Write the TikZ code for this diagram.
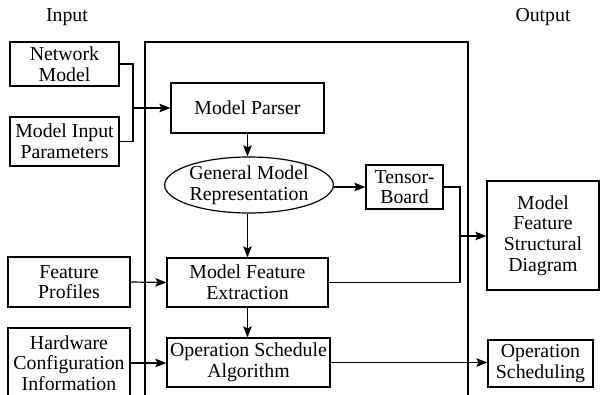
\documentclass[tikz,border=0pt]{standalone}
\usepackage{fontspec}
\setmainfont{Liberation Serif}
\newfontfamily\timesfont{Liberation Serif}
\usetikzlibrary{arrows.meta,shapes.geometric}
\tikzset{
  txt/.style={font=\timesfont\fontsize{19.8}{20.6}\selectfont},
  box/.style={draw,line width=1.2pt,align=center,inner sep=0pt,txt},
  oval/.style={draw,ellipse,line width=1.2pt,align=center,inner sep=0pt,txt},
  lbl/.style={inner sep=0pt,txt},
  conn/.style={line width=1.2pt},
  arr/.style={line width=1.2pt,-{Stealth[length=11pt,width=8.5pt,inset=2pt]}}
}
\begin{document}
\begin{tikzpicture}[x=1pt,y=-1pt]
\useasboundingbox (0,0) rectangle (600,394);
\clip (0,0) rectangle (600,394);
\node[lbl] (inlbl) at (67,17) {Input};
\node[lbl] (outlbl) at (543,17) {Output};
\node[draw,line width=1.2pt,minimum width=323pt,minimum height=370pt,inner sep=0pt] (frame) at (306.5,227) {};
\node[box,minimum width=109pt,minimum height=44pt] (net) at (64.5,64) {Network\\Model};
\node[box,minimum width=109pt,minimum height=49pt] (mip) at (64.5,141.5) {Model Input\\Parameters};
\node[box,minimum width=153pt,minimum height=50pt] (parser) at (247.5,108) {Model Parser};
\node[oval,minimum width=168pt,minimum height=56pt] (gmr) at (249,185) {General Model\\Representation};
\node[box,minimum width=77pt,minimum height=44pt] (tb) at (404.5,187) {Tensor-\\Board};
\node[box,minimum width=161pt,minimum height=49pt] (mfe) at (247.5,282.5) {Model Feature\\Extraction};
\node[box,minimum width=122pt,minimum height=50pt] (fp) at (69,282) {Feature\\Profiles};
\node[box,minimum width=122pt,minimum height=70pt] (hw) at (69,363) {Hardware\\Configuration\\Information};
\node[box,minimum width=163pt,minimum height=49pt] (osa) at (248.5,362.5) {Operation Schedule\\Algorithm};
\node[box,minimum width=112pt,minimum height=109pt] (mfsd) at (543,235.5) {Model\\Feature\\Structural\\Diagram};
\node[box,minimum width=105pt,minimum height=47pt] (os) at (540.5,363.5) {Operation\\Scheduling};
\coordinate (j1) at (133,108);
\coordinate (j2) at (460,236);
\draw[conn] (net.east) -| (j1);
\draw[conn] (mip.east) -| (j1);
\draw[arr] (j1) -- (parser.west);
\draw[arr] (parser.south) -- (parser.south |- gmr.north);
\draw[arr] (gmr.east |- tb.west) -- (tb.west);
\draw[arr] (gmr.south -| mfe.north) -- (mfe.north);
\draw[conn] (tb.east) -| (j2 |- mfe.east) -- (mfe.east);
\draw[arr] (j2) -- (j2 -| mfsd.west);
\draw[arr] (fp.east) -- (mfe.west);
\draw[arr] (mfe.south) -- (mfe.south |- osa.north);
\draw[arr] (hw.east) -- (hw.east -| osa.west);
\draw[arr] (osa.east) -- (osa.east -| os.west);
\end{tikzpicture}
\end{document}
